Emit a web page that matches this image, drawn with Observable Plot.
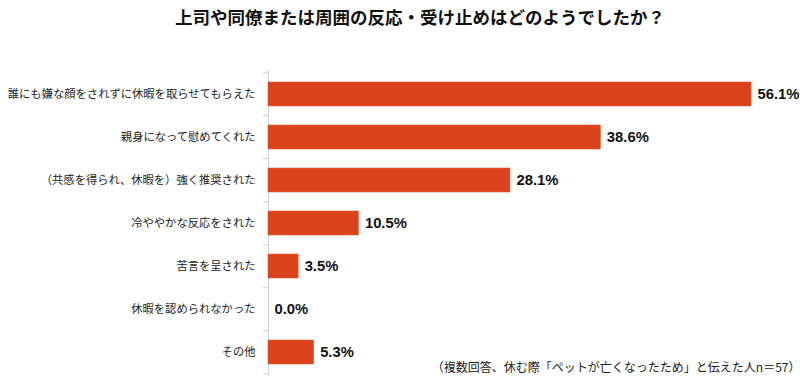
<!DOCTYPE html>
<html><head><meta charset="utf-8">
<script src="https://cdn.jsdelivr.net/npm/d3@7"></script>
<script src="https://cdn.jsdelivr.net/npm/@observablehq/plot@0.6"></script>
<style>
body{margin:0;background:#fff;}
#chart{width:800px;height:378px;position:relative;}
svg{font-family:"Noto Sans CJK JP",sans-serif;}
</style>
</head><body><div id="chart"></div>
<script>
const title = "上司や同僚または周囲の反応・受け止めはどのようでしたか？";
const note = "（複数回答、休む際「ペットが亡くなったため」と伝えた人n＝57）";
const categories = [
  "誰にも嫌な顔をされずに休暇を取らせてもらえた",
  "親身になって慰めてくれた",
  "（共感を得られ、休暇を）強く推奨された",
  "冷ややかな反応をされた",
  "苦言を呈された",
  "休暇を認められなかった",
  "その他"
];
const values = [56.1, 38.6, 28.1, 10.5, 3.5, 0.0, 5.3];

const data = categories.map((c, i) => ({cat: c, v: values[i]}));
const step = (375 - 70) / categories.length;

const plot = Plot.plot({
  width: 800,
  height: 378,
  marginTop: 70,
  marginBottom: 3,
  marginLeft: 268,
  marginRight: 49,
  x: {domain: [0, 56.1], axis: null},
  y: {domain: categories, paddingInner: 0.45, paddingOuter: 0.225, align: 0.5, label: null, axis: null},
  style: {fontFamily: "'Noto Sans CJK JP', sans-serif", color: "#222"},
  marks: [
    Plot.axisY({tickSize: 0, tickPadding: 13, fontSize: 11.3, fill: "#222", label: null}),
    Plot.ruleX([0], {stroke: "#d0d0d0", strokeWidth: 1.2}),
    Plot.ruleY(categories, {y: d => d, x1: -0.6, x2: 0, dy: -step / 2, stroke: "#d0d0d0"}),
    Plot.ruleY(categories.slice(-1), {y: d => d, x1: -0.6, x2: 0, dy: step / 2, stroke: "#d0d0d0"}),
    Plot.barX(data, {x: "v", y: "cat", fill: "#d9421a", stroke: "#e0603a", strokeWidth: 0.6}),
    Plot.text(data, {x: "v", y: "cat", text: d => d.v.toFixed(1) + "%", textAnchor: "start", dx: 6,
      fontSize: 14.8, fontWeight: "bold", fill: "#111", fontFamily: "'Liberation Sans', Arial, sans-serif"}),
    Plot.text([title], {text: d => d, frameAnchor: "top", dy: -59, dx: -90, fontSize: 17.5, fontWeight: "bold", fill: "#111"}),
    Plot.text([note], {text: d => d, frameAnchor: "bottom-right", dx: 49, dy: -4, fontSize: 12, fill: "#222"})
  ]
});
document.getElementById("chart").appendChild(plot);
</script>
</body></html>
